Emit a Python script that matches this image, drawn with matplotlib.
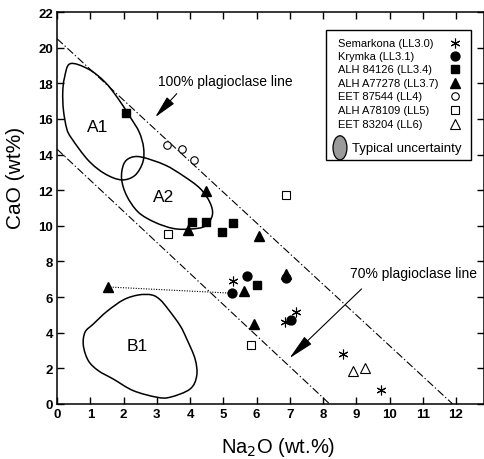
import numpy as np
import matplotlib
matplotlib.use("Agg")
import matplotlib.pyplot as plt
from matplotlib.path import Path
from matplotlib.patches import PathPatch, Rectangle, Ellipse

plt.rcParams['font.family'] = ['Liberation Sans', 'DejaVu Sans']

# ---------------- data ----------------
semarkona_x = [5.30, 7.19, 6.86, 8.59, 9.74]
semarkona_y = [6.93, 5.19, 4.59, 2.81, 0.79]
krymka_x = [5.72, 5.25, 6.90, 7.05]
krymka_y = [7.21, 6.22, 7.05, 4.74]
alh84126_x = [2.08, 4.05, 4.48, 4.95, 5.28, 6.02]
alh84126_y = [16.35, 10.24, 10.24, 9.64, 10.17, 6.69]
alhA77278_x = [4.48, 3.95, 6.07, 5.62, 6.90, 1.52, 5.92]
alhA77278_y = [11.93, 9.79, 9.42, 6.37, 7.28, 6.57, 4.49]
eet87544_x = [3.30, 3.75, 4.12]
eet87544_y = [14.51, 14.29, 13.67]
alhA78109_x = [6.89, 3.35, 5.82]
alhA78109_y = [11.74, 9.55, 3.33]
eet83204_x = [8.89, 9.26]
eet83204_y = [1.87, 2.00]

# plagioclase lines (Na2O, CaO endpoints)
line100_x = [0.0, 11.9]
line100_y = [20.5, 0.0]
line70_x = [0.0, 8.2]
line70_y = [14.3, 0.0]

# field outlines
a1_x = [0.39, 0.94, 1.44, 1.84, 2.20, 2.47, 2.60, 2.58, 2.34, 1.94, 1.44, 0.94, 0.44, 0.29, 0.19, 0.17, 0.22]
a1_y = [19.10, 18.80, 18.07, 17.13, 16.10, 15.26, 14.40, 13.58, 12.83, 12.58, 12.92, 13.67, 14.90, 15.45, 16.50, 17.50, 18.30]
a2_x = [2.54, 3.24, 3.80, 4.30, 4.60, 4.67, 4.45, 4.00, 3.50, 2.94, 2.44, 2.09, 1.94, 2.00, 2.20]
a2_y = [13.86, 13.42, 12.80, 12.10, 11.30, 10.60, 9.98, 9.82, 9.85, 10.20, 10.77, 11.70, 12.64, 13.45, 13.82]
b1_x = [2.00, 2.45, 2.85, 3.10, 3.35, 3.70, 3.90, 4.15, 4.20, 4.00, 3.40, 3.00, 2.29, 1.69, 1.24, 0.94, 0.79, 0.84, 1.09, 1.50]
b1_y = [5.85, 6.12, 6.12, 5.85, 5.30, 4.40, 3.65, 2.53, 1.59, 0.84, 0.38, 0.38, 0.75, 1.40, 1.87, 2.43, 3.28, 4.03, 4.49, 5.20]

x_ticks = list(range(0, 13))
y_ticks = list(range(0, 23, 2))

legend_labels = ['Semarkona (LL3.0)', 'Krymka (LL3.1)', 'ALH 84126 (LL3.4)',
                 'ALH A77278 (LL3.7)', 'EET 87544 (LL4)', 'ALH A78109 (LL5)',
                 'EET 83204 (LL6)']

# ---------------- helpers ----------------
def smooth_closed_path(xs, ys):
    P = np.column_stack([xs, ys])
    n = len(P)
    verts = [P[0]]
    codes = [Path.MOVETO]
    for i in range(n):
        p0 = P[(i - 1) % n]
        p1 = P[i]
        p2 = P[(i + 1) % n]
        p3 = P[(i + 2) % n]
        c1 = p1 + (p2 - p0) / 6.0
        c2 = p2 - (p3 - p1) / 6.0
        verts += [c1, c2, p2]
        codes += [Path.CURVE4] * 3
    return Path(verts, codes)

# ---------------- figure ----------------
fig = plt.figure(figsize=(4.84, 4.60), dpi=100)
ax = fig.add_axes([0.118, 0.1196, 0.8818, 0.852])
ax.set_xlim(0, 12.84)
ax.set_ylim(0, 22)

for s in ax.spines.values():
    s.set_linewidth(1.1)

dashdot = (0, (7, 2.2, 1.2, 2.2))
ax.plot(line100_x, line100_y, color='black', lw=0.8, linestyle=dashdot)
ax.plot(line70_x, line70_y, color='black', lw=0.8, linestyle=dashdot)

for xs, ys in [(a1_x, a1_y), (a2_x, a2_y), (b1_x, b1_y)]:
    ax.add_patch(PathPatch(smooth_closed_path(xs, ys), fill=False,
                           edgecolor='black', lw=1.1))

ax.text(1.23, 15.6, 'A1', fontsize=12.5, ha='center', va='center')
ax.text(3.20, 11.66, 'A2', fontsize=12.5, ha='center', va='center')
ax.text(2.40, 3.30, 'B1', fontsize=12.5, ha='center', va='center')

# dotted tie line
ax.plot([alhA77278_x[5], krymka_x[1]], [alhA77278_y[5], krymka_y[1]],
        color='black', lw=0.8, linestyle=(0, (1, 1.3)))

st_star = dict(marker=(6, 2, 0), ms=7, color='black', mew=0.8)
st_fc = dict(marker='o', ms=6.4, color='black')
st_fs = dict(marker='s', ms=5.9, color='black')
st_ft = dict(marker='^', ms=7.2, color='black')
st_oc = dict(marker='o', ms=5.4, mfc='white', mec='black', mew=0.8)
st_os = dict(marker='s', ms=5.4, mfc='white', mec='black', mew=0.8)
st_ot = dict(marker='^', ms=6.8, mfc='white', mec='black', mew=0.8)

ax.plot(semarkona_x, semarkona_y, linestyle='none', **st_star)
ax.plot(krymka_x, krymka_y, linestyle='none', **st_fc)
ax.plot(alh84126_x, alh84126_y, linestyle='none', **st_fs)
ax.plot(alhA77278_x, alhA77278_y, linestyle='none', **st_ft)
ax.plot(eet87544_x, eet87544_y, linestyle='none', **st_oc)
ax.plot(alhA78109_x, alhA78109_y, linestyle='none', **st_os)
ax.plot(eet83204_x, eet83204_y, linestyle='none', **st_ot)

# annotations
ax.text(5.07, 18.15, '100% plagioclase line', fontsize=10, ha='center', va='center')
ax.annotate('', xy=(2.95, 16.1), xytext=(3.60, 17.42),
            arrowprops=dict(arrowstyle='-|>,head_length=1.4,head_width=0.3',
                            color='black', lw=0.8, shrinkA=0, shrinkB=0,
                            mutation_scale=10))
ax.text(8.81, 7.36, '70% plagioclase line', fontsize=10, ha='left', va='center')
ax.annotate('', xy=(6.99, 2.57), xytext=(9.16, 6.46),
            arrowprops=dict(arrowstyle='-|>,head_length=1.6,head_width=0.32',
                            color='black', lw=0.8, shrinkA=0, shrinkB=0,
                            mutation_scale=10))

# legend (manual box)
ax.add_patch(Rectangle((8.08, 13.67), 4.38, 7.30, fill=False, edgecolor='black', lw=1.0))
rows_y = [20.28, 19.53, 18.78, 18.03, 17.29, 16.48, 15.73]
styles = [st_star, st_fc, st_fs, st_ft, st_oc, st_os, st_ot]
for lab, yy, st in zip(legend_labels, rows_y, styles):
    ax.text(8.46, yy, lab, fontsize=8, ha='left', va='center')
    ax.plot([11.97], [yy], linestyle='none', **st)
ax.add_patch(Ellipse((8.51, 14.38), 0.42, 1.35, facecolor='#9a9a9a',
                     edgecolor='black', lw=0.9))
ax.text(8.88, 14.38, 'Typical uncertainty', fontsize=9.5, ha='left', va='center')

# ticks
ax.set_xticks(x_ticks)
ax.set_yticks(y_ticks)
ax.tick_params(direction='in', length=5, width=1.0, top=True, right=True,
               labelsize=9.5, pad=3)
for lab in ax.get_xticklabels() + ax.get_yticklabels():
    lab.set_fontweight('bold')

ax.set_xlabel('Na$_2$O (wt.%)', fontsize=14.5)
ax.set_ylabel('CaO (wt%)', fontsize=15)
ax.xaxis.set_label_coords(0.518, -0.08)
ax.yaxis.set_label_coords(-0.075, 0.58)

fig.savefig('out.png', dpi=100)
